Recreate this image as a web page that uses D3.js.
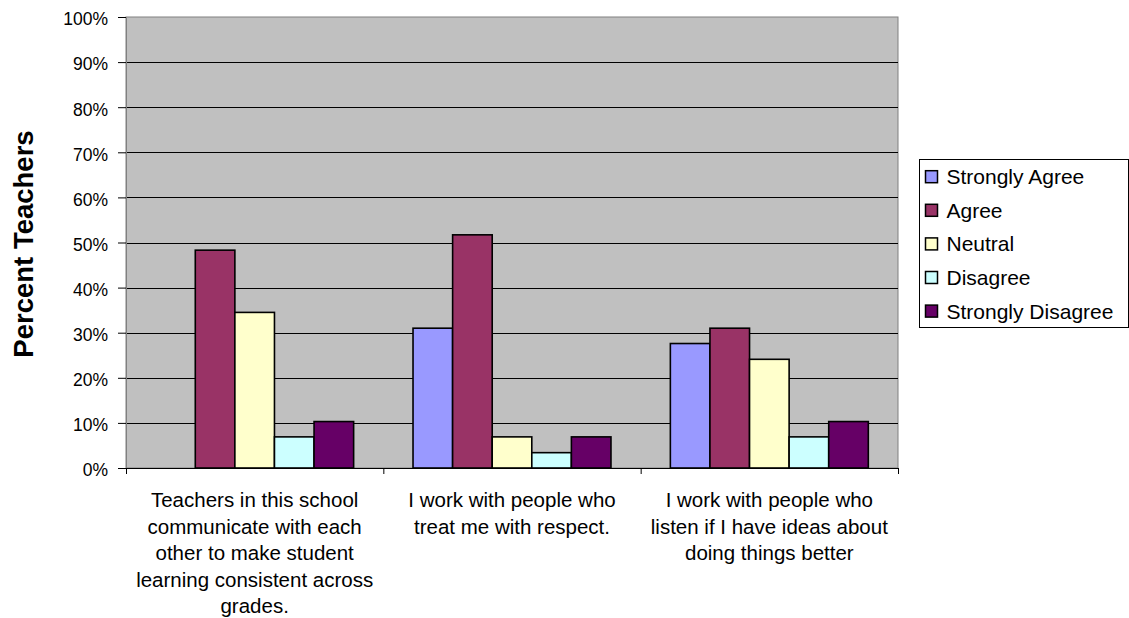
<!DOCTYPE html>
<html>
<head>
<meta charset="utf-8">
<script src="https://cdn.jsdelivr.net/npm/d3@7"></script>
<style>
  body { margin: 0; background: #fff; }
  text { font-family: Arial, "Liberation Sans", sans-serif; fill: #000; }
</style>
</head>
<body>
<svg id="chart"></svg>
<script>
// survey statements (x categories)
const questions = [
    ["Teachers in this school", "communicate with each", "other to make student", "learning consistent across", "grades."],
    ["I work with people who", "treat me with respect."],
    ["I work with people who", "listen if I have ideas about", "doing things better"]
];
const responses = ["Strongly Agree", "Agree", "Neutral", "Disagree", "Strongly Disagree"];
const colors = ["#9999FF", "#993366", "#FFFFCC", "#CCFFFF", "#660066"];

// percent of teachers, one array per response
const stronglyAgree = [0, 31.0, 27.6];
const agree = [48.3, 51.7, 31.0];
const neutral = [34.5, 6.9, 24.1];
const disagree = [6.9, 3.4, 6.9];
const stronglyDisagree = [10.3, 6.9, 10.3];
const series = [stronglyAgree, agree, neutral, disagree, stronglyDisagree];

const yTicks = [0, 10, 20, 30, 40, 50, 60, 70, 80, 90, 100];

const width = 1129, height = 618;
const plot = { left: 126, top: 17, right: 898, bottom: 468 };

const svg = d3.select("#chart").attr("width", width).attr("height", height);

const x0 = d3.scaleBand()
    .domain(d3.range(questions.length))
    .range([plot.left, plot.right])
    .paddingInner(0).paddingOuter(0);

// Excel style gap width 150%: bars fill 5 / 6.5 of a group
const x1 = d3.scaleBand()
    .domain(d3.range(responses.length))
    .range([0, x0.bandwidth()])
    .paddingInner(0)
    .paddingOuter(0.75);

const y = d3.scaleLinear().domain([0, 100]).range([plot.bottom, plot.top]);

// plot background
svg.append("rect")
    .attr("x", plot.left).attr("y", plot.top)
    .attr("width", plot.right - plot.left).attr("height", plot.bottom - plot.top)
    .attr("fill", "#C0C0C0")
    .attr("stroke", "#808080").attr("stroke-width", 1);

// gridlines
svg.append("g")
    .selectAll("line")
    .data(yTicks.filter(d => d > 0 && d < 100))
    .enter().append("line")
    .attr("x1", plot.left).attr("x2", plot.right)
    .attr("y1", d => Math.round(y(d)) + 0.5).attr("y2", d => Math.round(y(d)) + 0.5)
    .attr("stroke", "#000").attr("stroke-width", 1);

// bars
const groups = svg.append("g")
    .selectAll("g")
    .data(questions)
    .enter().append("g")
    .attr("transform", (d, i) => `translate(${x0(i)},0)`);

groups.selectAll("rect")
    .data((d, i) => series.map((s, k) => ({ k, v: s[i] })).filter(d => d.v > 0))
    .enter().append("rect")
    .attr("x", d => x1(d.k))
    .attr("y", d => y(d.v))
    .attr("width", x1.bandwidth())
    .attr("height", d => y(0) - y(d.v))
    .attr("fill", d => colors[d.k])
    .attr("stroke", "#000")
    .attr("stroke-width", 1.6);

// y axis
const yAxis = svg.append("g")
    .attr("transform", `translate(${plot.left},0)`)
    .call(d3.axisLeft(y).tickValues(yTicks).tickFormat(d => d + "%").tickSize(8).tickPadding(10));
yAxis.select(".domain").attr("stroke", "#808080");
yAxis.selectAll(".tick line").attr("stroke", "#000");
yAxis.selectAll("text")
    .attr("dy", "0.45em")
    .style("font-size", "17.5px")
    .style("font-family", "Arial, 'Liberation Sans', sans-serif");

// x axis
const xAxis = svg.append("g")
    .attr("transform", `translate(0,${plot.bottom})`)
    .call(d3.axisBottom(d3.scaleLinear().domain([0, 3]).range([plot.left, plot.right]))
        .tickValues([0, 1, 2, 3]).tickSize(6).tickFormat(""));
xAxis.select(".domain").attr("stroke", "#000");
xAxis.selectAll(".tick line").attr("stroke", "#000");

// category labels
svg.append("g")
    .selectAll("text")
    .data(questions)
    .enter().append("text")
    .attr("text-anchor", "middle")
    .attr("x", (d, i) => x0(i) + x0.bandwidth() / 2)
    .attr("y", 507)
    .style("font-size", "20.5px")
    .selectAll("tspan")
    .data(d => d)
    .enter().append("tspan")
    .attr("x", function () { return this.parentNode.getAttribute("x"); })
    .attr("dy", (d, i) => i === 0 ? 0 : 26.5)
    .text(d => d);

// y title
svg.append("text")
    .attr("transform", `translate(33,244) rotate(-90)`)
    .attr("text-anchor", "middle")
    .style("font-size", "27.5px")
    .style("font-weight", "bold")
    .text("Percent Teachers");

// legend
const legend = svg.append("g").attr("transform", "translate(919,159)");
legend.append("rect")
    .attr("x", 0.5).attr("y", 0.5)
    .attr("width", 209).attr("height", 168)
    .attr("fill", "#fff").attr("stroke", "#000");

const item = legend.selectAll(".item")
    .data(responses)
    .enter().append("g")
    .attr("transform", (d, i) => `translate(0,${17.7 + i * 33.6})`);
item.append("rect")
    .attr("x", 6.5).attr("y", -6)
    .attr("width", 12).attr("height", 12)
    .attr("fill", (d, i) => colors[i])
    .attr("stroke", "#000").attr("stroke-width", 1.5);
item.append("text")
    .attr("x", 27.5).attr("y", 7.5)
    .style("font-size", "21px")
    .text(d => d);
</script>
</body>
</html>
